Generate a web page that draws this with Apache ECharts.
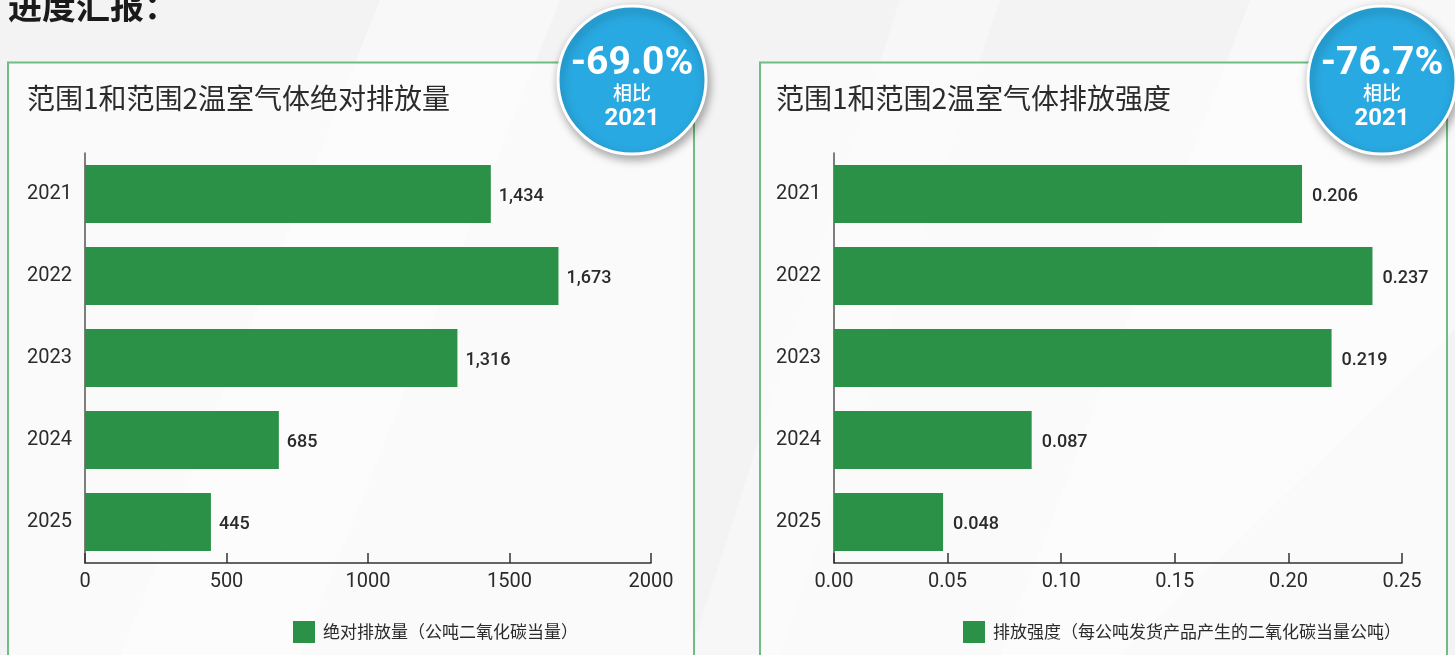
<!DOCTYPE html>
<html>
<head>
<meta charset="utf-8">
<script src="https://cdn.jsdelivr.net/npm/echarts@6/dist/echarts.min.js"></script>
<style>
  html, body { margin: 0; padding: 0; background: #f3f3f3; }
  #chart { width: 1455px; height: 655px; }
</style>
</head>
<body>
<div id="chart"></div>
<script>
// Reporting years (category axis)
const years = ['2021', '2022', '2023', '2024', '2025'];
// Scope 1 + 2 absolute emissions (tCO2e)
const absoluteEmissions = [1434, 1673, 1316, 685, 445];
// Emission intensity (tCO2e per tonne of product shipped)
const emissionIntensity = [0.206, 0.237, 0.219, 0.087, 0.048];

const pageTitle = '进度汇报：';
const leftTitle = '范围1和范围2温室气体绝对排放量';
const rightTitle = '范围1和范围2温室气体排放强度';
const leftLegend = '绝对排放量（公吨二氧化碳当量）';
const rightLegend = '排放强度（每公吨发货产品产生的二氧化碳当量公吨）';
const leftBadge = ['-69.0%', '相比', '2021'];
const rightBadge = ['-76.7%', '相比', '2021'];

const absTicks = { min: 0, max: 2000, interval: 500 };
const intTicks = { min: 0, max: 0.25, interval: 0.05 };

const GREEN = '#2a9146';
const BORDER = '#6fbd80';
const BLUE = '#29a9e1';
const TEXT = '#2b2b2b';
const FONT = 'Roboto, "Noto Sans CJK SC", sans-serif';
const CJK = '"Noto Sans CJK SC", Roboto, sans-serif';

const chart = echarts.init(document.getElementById('chart'), null, { renderer: 'canvas' });

// Card frame behind each chart
function panel(x, w) {
  return {
    type: 'rect', z: -5, silent: true,
    shape: { x: x, y: 62.5, width: w, height: 620 },
    style: { fill: 'rgba(255,255,255,0.55)', stroke: BORDER, lineWidth: 2 }
  };
}

// Round call-out with the change versus the base year
function badge(cx, cy, lines) {
  return [
    { type: 'circle', z: 50, silent: true, shape: { cx: cx, cy: cy, r: 74 },
      style: { fill: BLUE, stroke: '#ffffff', lineWidth: 3,
               shadowBlur: 10, shadowOffsetX: 2, shadowOffsetY: 4, shadowColor: 'rgba(0,0,0,0.35)' } },
    { type: 'text', z: 51, silent: true, style: { x: cx, y: cy - 16, text: lines[0], fill: '#fff',
        font: 'bold 39px ' + FONT, align: 'center', verticalAlign: 'middle' } },
    { type: 'text', z: 51, silent: true, style: { x: cx, y: cy + 13, text: lines[1], fill: '#fff',
        font: '500 19px ' + CJK, align: 'center', verticalAlign: 'middle' } },
    { type: 'text', z: 51, silent: true, style: { x: cx, y: cy + 39, text: lines[2], fill: '#fff',
        font: 'bold 24px ' + FONT, align: 'center', verticalAlign: 'middle' } }
  ];
}

function streak(points, alpha) {
  return { type: 'polygon', z: -10, silent: true,
    shape: { points: points }, style: { fill: 'rgba(255,255,255,' + alpha + ')' } };
}

function valueAxis(gridIndex, ticks, fmt) {
  return {
    type: 'value', gridIndex: gridIndex, z: 5,
    min: ticks.min, max: ticks.max, interval: ticks.interval,
    axisLine: { show: true, lineStyle: { color: '#333', width: 1.5 } },
    axisTick: { show: true, inside: true, length: 10, lineStyle: { color: '#333', width: 1.5 } },
    splitLine: { show: false },
    axisLabel: { color: TEXT, fontSize: 20, fontFamily: FONT, margin: 9, formatter: fmt }
  };
}

function catAxis(gridIndex) {
  return {
    type: 'category', gridIndex: gridIndex, data: years, inverse: true, z: 5,
    axisLine: { show: true, lineStyle: { color: '#555', width: 1.5 } },
    axisTick: { show: false },
    axisLabel: { color: TEXT, fontSize: 20, fontFamily: FONT, margin: 13, padding: [10, 0, 0, 0] }
  };
}

chart.setOption({
  backgroundColor: '#f3f3f3',
  animation: false,
  grid: [
    { left: 85, top: 153, width: 566, height: 410 },
    { left: 834, top: 153, width: 568, height: 410 }
  ],
  xAxis: [
    valueAxis(0, absTicks, v => String(v)),
    valueAxis(1, intTicks, v => v.toFixed(2))
  ],
  yAxis: [catAxis(0), catAxis(1)],
  legend: [
    { data: [leftLegend], left: 293, top: 621, padding: 0, itemWidth: 22, itemHeight: 22, icon: 'rect', z: 5,
      textStyle: { color: TEXT, fontSize: 17, fontFamily: CJK, padding: [0, 0, 0, 3] } },
    { data: [rightLegend], left: 963, top: 621, padding: 0, itemWidth: 22, itemHeight: 22, icon: 'rect', z: 5,
      textStyle: { color: TEXT, fontSize: 17, fontFamily: CJK, padding: [0, 0, 0, 3] } }
  ],
  series: [
    { name: leftLegend, type: 'bar', xAxisIndex: 0, yAxisIndex: 0, data: absoluteEmissions,
      barWidth: 58, itemStyle: { color: GREEN }, z: 10,
      label: { show: true, position: 'right', distance: 8, offset: [0, 2], color: TEXT, fontSize: 18,
               fontWeight: 500, fontFamily: FONT,
               formatter: p => p.value.toLocaleString('en-US') } },
    { name: rightLegend, type: 'bar', xAxisIndex: 1, yAxisIndex: 1, data: emissionIntensity,
      barWidth: 58, itemStyle: { color: GREEN }, z: 10,
      label: { show: true, position: 'right', distance: 10, offset: [0, 2], color: TEXT, fontSize: 18,
               fontWeight: 500, fontFamily: FONT,
               formatter: p => p.value.toFixed(3) } }
  ],
  graphic: [
    streak([[380, 0], [560, 0], [300, 655], [120, 655]], 0.45),
    streak([[900, 0], [1000, 0], [780, 655], [690, 655]], 0.35),
    streak([[1250, 0], [1455, 0], [1455, 330], [1120, 655], [1000, 655]], 0.4),
    panel(8, 686),
    panel(760, 687),
    { type: 'text', z: 20, silent: true, style: { x: 8, y: 6, text: pageTitle, fill: '#1a1a1a',
        font: 'bold 34px ' + CJK, verticalAlign: 'middle' } },
    { type: 'text', z: 20, silent: true, style: { x: 27, y: 98, text: leftTitle, fill: TEXT,
        font: '28px ' + CJK, verticalAlign: 'middle' } },
    { type: 'text', z: 20, silent: true, style: { x: 776, y: 98, text: rightTitle, fill: TEXT,
        font: '28px ' + CJK, verticalAlign: 'middle' } }
  ].concat(badge(632, 80, leftBadge), badge(1382, 80, rightBadge))
});
</script>
</body>
</html>
